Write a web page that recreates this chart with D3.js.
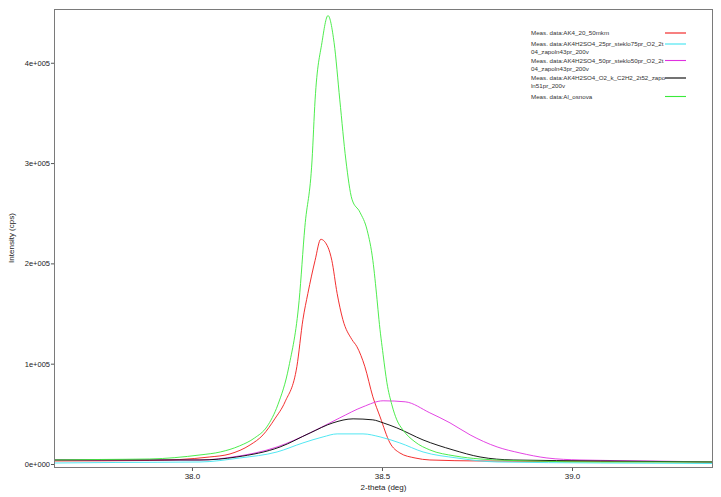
<!DOCTYPE html>
<html><head><meta charset="utf-8">
<script src="https://cdn.jsdelivr.net/npm/d3@7"></script>
<style>
html,body{margin:0;padding:0;background:#fff;}
svg{display:block;font-family:"Liberation Sans",Arial,sans-serif;}
</style></head>
<body><svg id="chart" width="721" height="497"></svg>
<script>
// ---- data ----
const xTicks = [38.0, 38.5, 39.0];
const xTickLabels = ["38.0", "38.5", "39.0"];
const yTicks = [0, 100000, 200000, 300000, 400000];
const yTickLabels = ["0e+000", "1e+005", "2e+005", "3e+005", "4e+005"];
const xTitle = "2-theta (deg)";
const yTitle = "Intensity (cps)";

const seriesNames = [
  ["Meas. data:AK4_20_50mkm"],
  ["Meas. data:AK4H2SO4_25pr_steklo75pr_O2_2t", "04_zapoln43pr_200v"],
  ["Meas. data:AK4H2SO4_50pr_steklo50pr_O2_2t", "04_zapoln43pr_200v"],
  ["Meas. data:AK4H2SO4_O2_k_C2H2_2t52_zapo", "ln51pr_200v"],
  ["Meas. data:Al_osnova"]
];
const seriesColors = ["#f01818", "#3ee4f0", "#e030e0", "#000000", "#3aea3a"];

const redX = [37.637,37.889,38.047,38.100,38.153,38.187,38.218,38.245,38.276,38.292,38.305,38.324,38.339,38.358,38.368,38.382,38.397,38.421,38.434,38.455,38.476,38.495,38.521,38.547,38.587,38.626,38.758,39.074,39.371];
const redY = [3000,3500,7000,10000,19000,29000,45000,62000,97000,144000,170000,203000,224000,216000,203000,170000,144000,124000,117000,97000,67000,47000,21000,11000,6000,4000,3000,2500,2000];

const cyanX = [37.637,37.800,38.021,38.126,38.224,38.292,38.345,38.382,38.450,38.495,38.547,38.608,38.697,38.803,39.074,39.371];
const cyanY = [1000,1500,2000,6000,12000,21000,27000,30000,30000,27000,21000,12000,6000,2000,1000,500];

const magX = [37.637,37.900,38.021,38.108,38.224,38.311,38.389,38.450,38.503,38.561,38.626,38.679,38.732,38.803,38.863,38.934,39.021,39.205,39.371];
const magY = [4000,4000,4000,7000,17000,31000,46000,57000,63000,62000,51000,41000,29000,17000,11000,6000,4000,3000,2000];

const blackX = [37.637,37.900,38.021,38.118,38.232,38.311,38.371,38.424,38.476,38.503,38.539,38.608,38.687,38.758,38.845,39.074,39.371];
const blackY = [4000,4000,4000,7000,17000,31000,41000,45000,44000,41000,36000,24000,14000,7000,4000,3000,2000];

const greenX = [37.637,37.760,37.889,38.021,38.075,38.125,38.165,38.197,38.226,38.255,38.282,38.297,38.316,38.324,38.342,38.358,38.374,38.389,38.405,38.421,38.442,38.461,38.476,38.487,38.492,38.503,38.513,38.526,38.539,38.555,38.587,38.626,38.692,38.758,38.889,39.074,39.371];
const greenY = [4000,4500,5000,9000,12000,18000,26000,37000,59000,97000,163000,236000,303000,363000,420000,447000,420000,363000,303000,264000,251000,233000,203000,164000,144000,109000,81000,59000,44000,34000,22000,14000,8000,5000,3000,2000,2000];

const seriesX = [redX, cyanX, magX, blackX, greenX];
const seriesY = [redY, cyanY, magY, blackY, greenY];

// ---- chart ----
const svg = d3.select("#chart");
const L = 54, R = 713, T = 9, B = 468;
const x = d3.scaleLinear().domain([37.637, 39.371]).range([L, R]);
const y = d3.scaleLinear().domain([-4000, 453600]).range([B, T]);

svg.append("rect").attr("width", 721).attr("height", 497).attr("fill", "#fff");

svg.append("defs").append("clipPath").attr("id", "clip")
  .append("rect").attr("x", L).attr("y", T).attr("width", R - L).attr("height", B - T);

const line = d3.line().x(d => x(d[0])).y(d => y(d[1])).curve(d3.curveMonotoneX);
const g = svg.append("g").attr("clip-path", "url(#clip)");
seriesX.forEach((xs, i) => {
  const pts = xs.map((v, j) => [v, seriesY[i][j]]);
  g.append("path").datum(pts).attr("d", line)
    .attr("fill", "none").attr("stroke", seriesColors[i]).attr("stroke-width", 0.9);
});

// frame
svg.append("rect").attr("x", L + 0.5).attr("y", T + 0.5).attr("width", R - L - 1).attr("height", B - T - 1)
  .attr("fill", "none").attr("stroke", "#7a7a7a").attr("stroke-width", 1);

// axes
const xAxis = d3.axisBottom(x).tickValues(xTicks).tickFormat((d, i) => xTickLabels[i]).tickSize(3).tickPadding(2);
const gx = svg.append("g").attr("transform", `translate(0,${B})`).call(xAxis);
gx.select(".domain").remove();
gx.selectAll("line").attr("stroke", "#555");
gx.selectAll("text").attr("font-size", 8).attr("fill", "#222").attr("font-family", "Liberation Sans, Arial, sans-serif");

const yAxis = d3.axisLeft(y).tickValues(yTicks).tickFormat((d, i) => yTickLabels[i]).tickSize(3).tickPadding(1);
const gy = svg.append("g").attr("transform", `translate(${L},0)`).call(yAxis);
gy.select(".domain").remove();
gy.selectAll("line").attr("stroke", "#555");
gy.selectAll("text").attr("font-size", 7.5).attr("fill", "#222").attr("font-family", "Liberation Sans, Arial, sans-serif");

svg.append("text").attr("x", (L + R) / 2).attr("y", 490).attr("text-anchor", "middle")
  .attr("font-size", 8).attr("fill", "#222").text(xTitle);
svg.append("text").attr("transform", "translate(14,238) rotate(-90)").attr("text-anchor", "middle")
  .attr("font-size", 8).attr("fill", "#222").text(yTitle);

// legend
const legRows = [[33], [44, 52], [60.5, 68.5], [78, 86], [96.5]];
const lg = svg.append("g");
seriesNames.forEach((lines, i) => {
  lines.forEach((t, k) => {
    lg.append("text").attr("x", 531).attr("y", legRows[i][k] + 2.2)
      .attr("font-size", 6.2).attr("fill", "#333").text(t);
  });
  lg.append("line").attr("x1", 665).attr("x2", 686)
    .attr("y1", legRows[i][0]).attr("y2", legRows[i][0])
    .attr("stroke", seriesColors[i]).attr("stroke-width", 1.1);
});
</script>
</body></html>
